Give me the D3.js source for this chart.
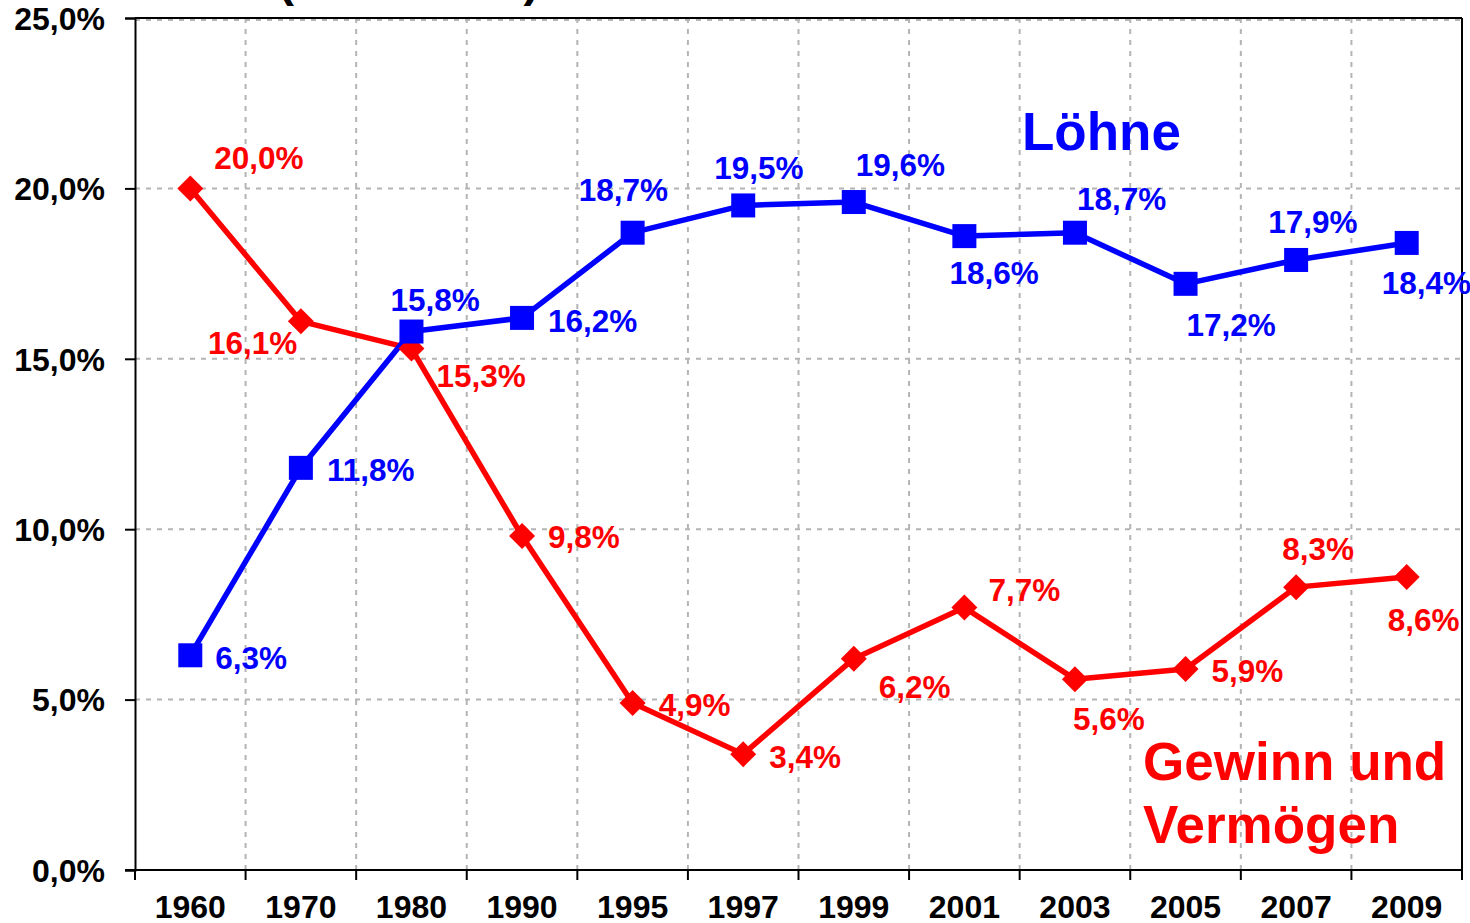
<!DOCTYPE html>
<html>
<head>
<meta charset="utf-8">
<script src="https://cdn.jsdelivr.net/npm/d3@7"></script>
<style>
  body { margin: 0; background: #fff; }
  text { font-family: 'Liberation Sans', Arial, sans-serif; font-weight: bold; }
</style>
</head>
<body>
<div id="chart"></div>
<script>
// data
var years = ['1960', '1970', '1980', '1990', '1995', '1997', '1999', '2001', '2003', '2005', '2007', '2009']
var loehne = [6.3, 11.8, 15.8, 16.2, 18.7, 19.5, 19.6, 18.6, 18.7, 17.2, 17.9, 18.4]
var gewinn = [20.0, 16.1, 15.3, 9.8, 4.9, 3.4, 6.2, 7.7, 5.6, 5.9, 8.3, 8.6]
var yTicks = [0, 5, 10, 15, 20, 25]

// label offsets (dx, dy) from each point
var loehneLabelOffsets = [[25, 14], [26, 13], [-21, -21], [26, 14], [-54, -32], [-29, -26],
  [2, -26], [-15, 48], [2, -23], [1, 52], [-28, -27], [-25, 51]]
var gewinnLabelOffsets = [[24, -19], [-93, 33], [25, 38], [26, 12], [26, 13], [26, 14],
  [25, 39], [24, -7], [-2, 51], [26, 13], [-14, -27], [-19, 54]]

var blue = '#0000ff'
var red = '#ff0000'

var svg = d3.select('#chart')
  .append('svg')
  .attr('width', 1470)
  .attr('height', 923)

// plot box
var plotLeft = 135, plotRight = 1462, plotTop = 18, plotBottom = 870

var x = d3.scaleBand().domain(years).range([plotLeft, plotRight])
var y = d3.scaleLinear().domain([0, 25]).range([plotBottom, plotTop])
var cx = d => x(d) + x.bandwidth() / 2

var fmt = v => v.toFixed(1).replace('.', ',') + '%'

// partially visible title
svg.append('text')
  .attr('x', 278)
  .attr('y', -4)
  .attr('font-size', 48)
  .attr('fill', '#000')
  .text('(1960-2009)')

// grid
svg.append('g')
  .selectAll('line')
  .data(yTicks.slice(1))
  .enter()
  .append('line')
  .attr('x1', plotLeft)
  .attr('x2', plotRight)
  .attr('y1', d => y(d) + (d === 25 ? 2 : 0))
  .attr('y2', d => y(d) + (d === 25 ? 2 : 0))
  .attr('stroke', '#b4b4b4')
  .attr('stroke-width', 2)
  .attr('stroke-dasharray', '5,6')

svg.append('g')
  .selectAll('line')
  .data(years.slice(1))
  .enter()
  .append('line')
  .attr('x1', d => x(d))
  .attr('x2', d => x(d))
  .attr('y1', plotTop)
  .attr('y2', plotBottom)
  .attr('stroke', '#b4b4b4')
  .attr('stroke-width', 2)
  .attr('stroke-dasharray', '5,6')

// plot border top / right
svg.append('line')
  .attr('x1', plotLeft).attr('x2', plotRight)
  .attr('y1', plotTop).attr('y2', plotTop)
  .attr('stroke', '#000').attr('stroke-width', 2)
svg.append('line')
  .attr('x1', plotRight).attr('x2', plotRight)
  .attr('y1', plotTop).attr('y2', plotBottom)
  .attr('stroke', '#000').attr('stroke-width', 2)

// y axis
var yAxis = d3.axisLeft(y).tickValues(yTicks).tickSize(10).tickPadding(20).tickFormat(fmt)
svg.append('g')
  .attr('class', 'axis y-axis')
  .attr('transform', 'translate(' + plotLeft + ',0)')
  .call(yAxis)
  .call(g => g.select('.domain').attr('stroke-width', 2))
  .call(g => g.selectAll('.tick line').attr('stroke-width', 2))
  .call(g => g.selectAll('text').attr('font-size', 32).attr('fill', '#000').attr('dy', '0.35em'))

// x axis
var xAxis = d3.axisBottom(x).tickSize(0).tickSizeOuter(0)
svg.append('g')
  .attr('class', 'axis x-axis')
  .attr('transform', 'translate(0,' + plotBottom + ')')
  .call(xAxis)
  .call(g => g.select('.domain').attr('stroke-width', 2).attr('d', 'M' + (plotLeft - 10) + ',0H' + plotRight))
  .call(g => g.selectAll('text').attr('font-size', 32).attr('fill', '#000').attr('y', 48).attr('dy', 0))

// boundary ticks on x axis
svg.append('g')
  .selectAll('line')
  .data(years.concat(['end']))
  .enter()
  .append('line')
  .attr('x1', d => d === 'end' ? plotRight : x(d))
  .attr('x2', d => d === 'end' ? plotRight : x(d))
  .attr('y1', plotBottom)
  .attr('y2', plotBottom + 10)
  .attr('stroke', '#000')
  .attr('stroke-width', 2)

// lines
var line = d3.line()
  .x((d, i) => cx(years[i]))
  .y(d => y(d))

svg.append('path')
  .datum(gewinn)
  .attr('d', line)
  .attr('fill', 'none')
  .attr('stroke', red)
  .attr('stroke-width', 5.5)
  .attr('stroke-linejoin', 'round')

svg.append('path')
  .datum(loehne)
  .attr('d', line)
  .attr('fill', 'none')
  .attr('stroke', blue)
  .attr('stroke-width', 5.5)
  .attr('stroke-linejoin', 'round')

// markers
svg.append('g')
  .selectAll('path')
  .data(gewinn)
  .enter()
  .append('path')
  .attr('d', 'M0,-13L13,0L0,13L-13,0Z')
  .attr('transform', (d, i) => 'translate(' + cx(years[i]) + ',' + y(d) + ')')
  .attr('fill', red)

svg.append('g')
  .selectAll('rect')
  .data(loehne)
  .enter()
  .append('rect')
  .attr('x', (d, i) => cx(years[i]) - 12)
  .attr('y', d => y(d) - 12)
  .attr('width', 24)
  .attr('height', 24)
  .attr('fill', blue)

// value labels
svg.append('g')
  .selectAll('text')
  .data(gewinn)
  .enter()
  .append('text')
  .attr('x', (d, i) => cx(years[i]) + gewinnLabelOffsets[i][0])
  .attr('y', (d, i) => y(d) + gewinnLabelOffsets[i][1])
  .attr('font-size', 31.5)
  .attr('fill', red)
  .text(fmt)

svg.append('g')
  .selectAll('text')
  .data(loehne)
  .enter()
  .append('text')
  .attr('x', (d, i) => cx(years[i]) + loehneLabelOffsets[i][0])
  .attr('y', (d, i) => y(d) + loehneLabelOffsets[i][1])
  .attr('font-size', 31.5)
  .attr('fill', blue)
  .text(fmt)

// series names
svg.append('text')
  .attr('x', 1022)
  .attr('y', 150)
  .attr('font-size', 53)
  .attr('fill', blue)
  .text('Löhne')

svg.append('text')
  .attr('x', 1143)
  .attr('y', 780)
  .attr('font-size', 53)
  .attr('fill', red)
  .text('Gewinn und')

svg.append('text')
  .attr('x', 1143)
  .attr('y', 843)
  .attr('font-size', 53)
  .attr('fill', red)
  .text('Vermögen')
</script>
</body>
</html>
